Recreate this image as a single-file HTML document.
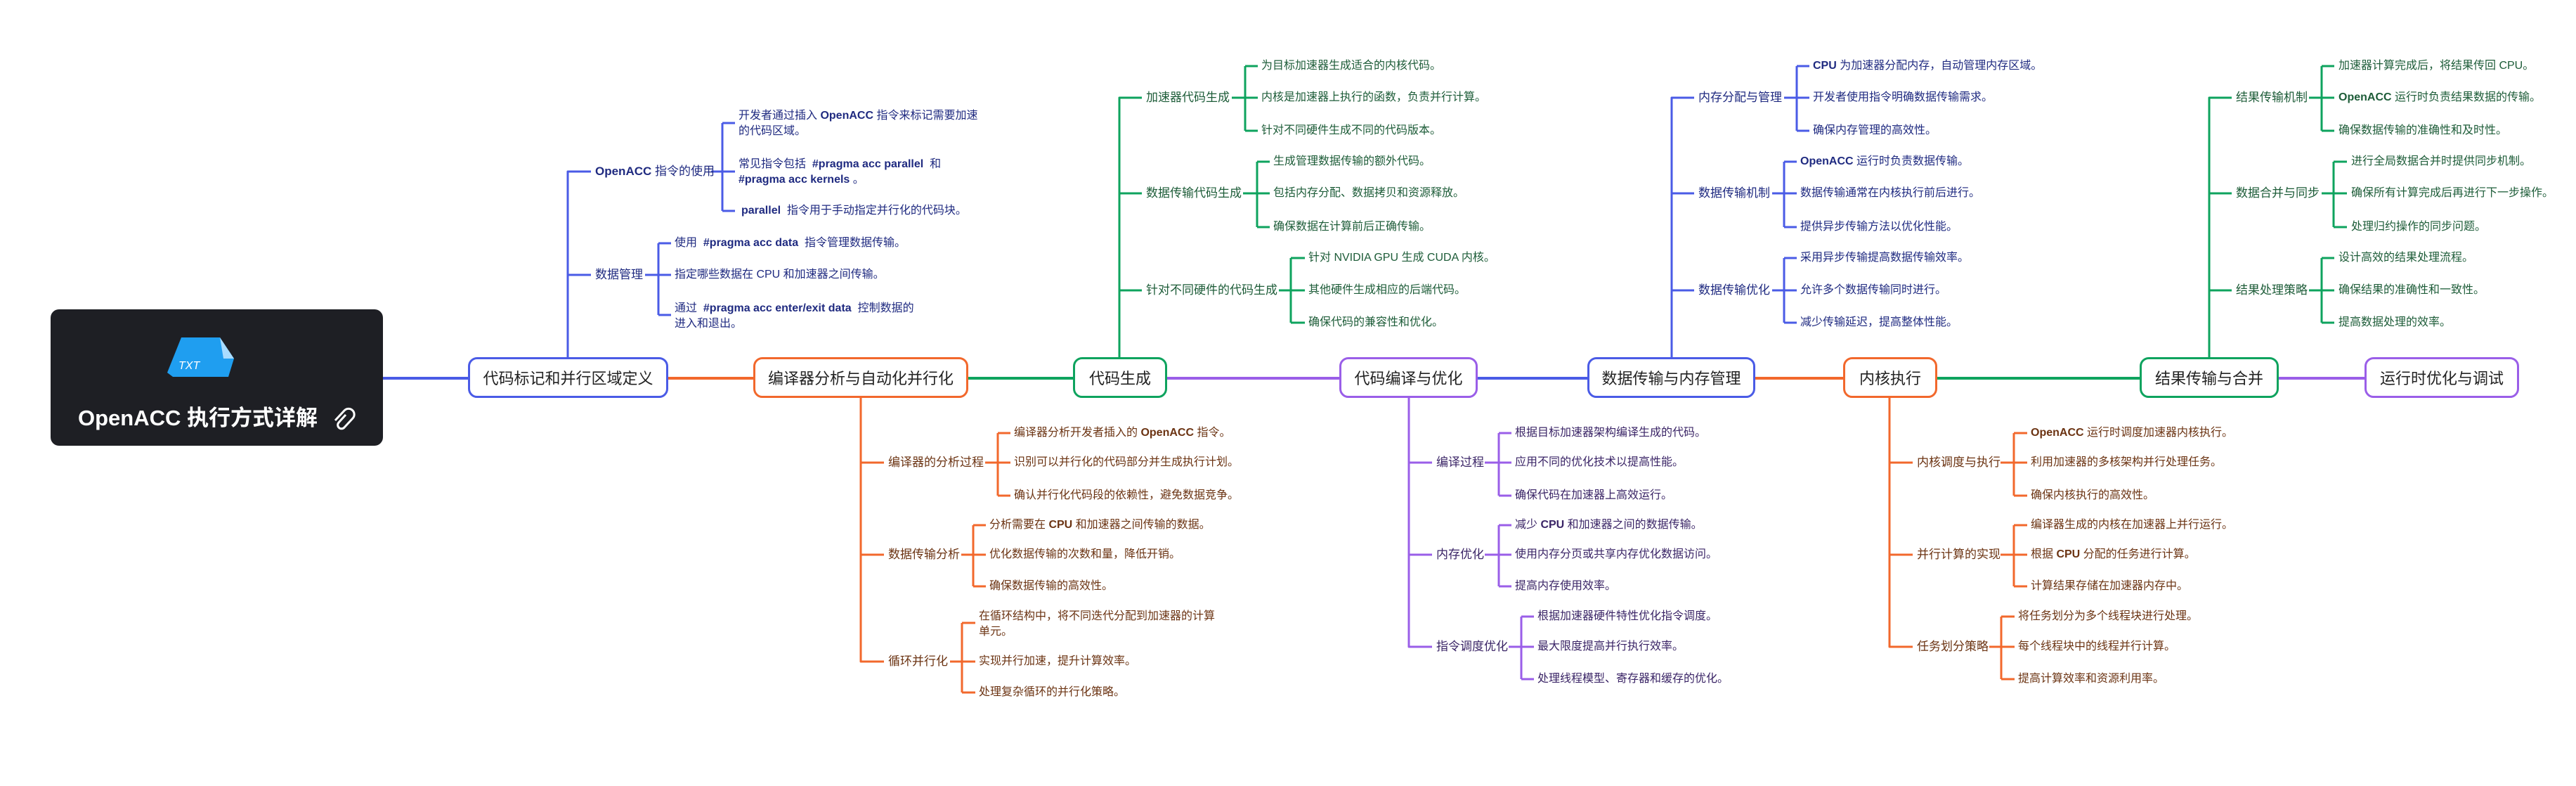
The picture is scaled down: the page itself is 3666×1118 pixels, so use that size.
<!DOCTYPE html>
<html><head><meta charset="utf-8">
<style>
html,body{margin:0;padding:0;background:#fff;}
body{width:3666px;height:1118px;position:relative;overflow:hidden;font-family:"Liberation Sans","Noto Sans CJK SC",sans-serif;}
.n{position:absolute;box-sizing:border-box;background:#fff;border:3.5px solid;border-radius:13px;height:58px;top:508px;display:flex;align-items:center;justify-content:center;font-size:22px;color:#222;white-space:nowrap;}
.t{position:absolute;white-space:nowrap;line-height:22px;}
.c{font-size:17px;}
.l{font-size:16px;}
.B{color:#1f2a80}.O{color:#6b3312}.G{color:#1d5c38}.P{color:#3a2466}
svg{position:absolute;left:0;top:0;}
</style></head><body>
<svg width="3666" height="1118" fill="none" stroke-width="3" stroke-linecap="butt" stroke-linejoin="round">
<g stroke-width="4">
<path d="M545 538H666" stroke="#4a5be6"/>
<path d="M951 538H1072" stroke="#f2682c"/>
<path d="M1378 538H1527" stroke="#0ea35e"/>
<path d="M1661 538H1906" stroke="#9a5ee8"/>
<path d="M2103 538H2259" stroke="#4a5be6"/>
<path d="M2498 538H2623" stroke="#f2682c"/>
<path d="M2757 538H3045" stroke="#0ea35e"/>
<path d="M3243 538H3365" stroke="#9a5ee8"/>
</g>
<g stroke="#4a5be6">
<path d="M808 509V244H841M808 391H841"/>
<path d="M1012 244H1046M1028 175V300M1028 175H1046M1028 300H1046"/>
<path d="M918 391H955M937 346V448M937 346H955M937 448H955"/>
</g>
<g stroke="#0ea35e">
<path d="M1593 509V139H1625M1593 275H1625M1593 413H1625"/>
<path d="M1753 139H1790M1772 94V186M1772 94H1790M1772 186H1790"/>
<path d="M1769 275H1807M1789 230V323M1789 230H1807M1789 323H1807"/>
<path d="M1820 413H1857M1837 367V459M1837 367H1857M1837 459H1857"/>
</g>
<g stroke="#4a5be6">
<path d="M2379 509V139H2411M2379 275H2411M2379 413H2411"/>
<path d="M2539 139H2575M2557 94V186M2557 94H2575M2557 186H2575"/>
<path d="M2522 275H2557M2539 230V323M2539 230H2557M2539 323H2557"/>
<path d="M2522 413H2557M2539 367V459M2539 367H2557M2539 459H2557"/>
</g>
<g stroke="#0ea35e">
<path d="M3144 509V139H3176M3144 275H3176M3144 413H3176"/>
<path d="M3286 139H3322M3304 94V186M3304 94H3322M3304 186H3322"/>
<path d="M3304 275H3340M3321 230V323M3321 230H3340M3321 323H3340"/>
<path d="M3286 413H3322M3304 367V459M3304 367H3322M3304 459H3322"/>
</g>
<g stroke="#f2682c">
<path d="M1225 566V941H1258M1225 658H1258M1225 789H1258"/>
<path d="M1402 658H1438M1420 616V705M1420 616H1438M1420 705H1438"/>
<path d="M1368 789H1403M1385 747V834M1385 747H1403M1385 834H1403"/>
<path d="M1352 941H1388M1369 886V985M1369 886H1388M1369 985H1388"/>
</g>
<g stroke="#9a5ee8">
<path d="M2005 566V920H2038M2005 658H2038M2005 789H2038"/>
<path d="M2113 658H2151M2133 616V705M2133 616H2151M2133 705H2151"/>
<path d="M2113 789H2151M2133 747V834M2133 747H2151M2133 834H2151"/>
<path d="M2147 920H2183M2165 877V966M2165 877H2183M2165 966H2183"/>
</g>
<g stroke="#f2682c">
<path d="M2689 566V920H2722M2689 658H2722M2689 789H2722"/>
<path d="M2847 658H2885M2866 616V705M2866 616H2885M2866 705H2885"/>
<path d="M2847 789H2885M2866 747V834M2866 747H2885M2866 834H2885"/>
<path d="M2831 920H2867M2848 877V966M2848 877H2867M2848 966H2867"/>
</g>
</svg>

<div style="position:absolute;left:72px;top:440px;width:473px;height:194px;background:#1e1f24;border-radius:12px;"></div>
<svg width="3666" height="1118" style="pointer-events:none">
<path d="M258 480H313L333 510L325 536H246L238 530Z" fill="#1f9ef0"/>
<path d="M313 480L333 510H318Z" fill="#a9dcff"/>
<text x="254" y="525" font-family="Liberation Sans" font-style="italic" font-size="16" fill="#fff">TXT</text>
<path d="M492 590l-10 11a5 5 0 0 0 8 7l12-13a8 8 0 0 0-12-11l-13 14" stroke="#fff" stroke-width="3" fill="none"/>
</svg>
<div class="t" style="left:111px;top:575px;font-size:31px;line-height:40px;font-weight:bold;color:#fff;">OpenACC 执行方式详解</div>

<div class="n" style="left:666px;width:285px;border-color:#4a5be6;">代码标记和并行区域定义</div>
<div class="n" style="left:1072px;width:306px;border-color:#f2682c;">编译器分析与自动化并行化</div>
<div class="n" style="left:1527px;width:134px;border-color:#0ea35e;">代码生成</div>
<div class="n" style="left:1906px;width:197px;border-color:#9a5ee8;">代码编译与优化</div>
<div class="n" style="left:2259px;width:239px;border-color:#4a5be6;">数据传输与内存管理</div>
<div class="n" style="left:2623px;width:134px;border-color:#f2682c;">内核执行</div>
<div class="n" style="left:3045px;width:198px;border-color:#0ea35e;">结果传输与合并</div>
<div class="n" style="left:3365px;width:220px;border-color:#9a5ee8;">运行时优化与调试</div>

<div class="t c B" style="left:847px;top:233px;"><b style="font-weight:600">OpenACC</b> 指令的使用</div>
<div class="t c B" style="left:847px;top:380px;">数据管理</div>
<div class="t l B" style="left:1051px;top:154px;">开发者通过插入 <b style="font-weight:600">OpenACC</b> 指令来标记需要加速<br>的代码区域。</div>
<div class="t l B" style="left:1051px;top:223px;">常见指令包括 &nbsp;<b style="font-weight:600">#pragma acc parallel</b> &nbsp;和<br><b style="font-weight:600">#pragma acc kernels</b> 。</div>
<div class="t l B" style="left:1055px;top:289px;"><b style="font-weight:600">parallel</b> &nbsp;指令用于手动指定并行化的代码块。</div>
<div class="t l B" style="left:960px;top:335px;">使用 &nbsp;<b style="font-weight:600">#pragma acc data</b> &nbsp;指令管理数据传输。</div>
<div class="t l B" style="left:960px;top:380px;">指定哪些数据在 CPU 和加速器之间传输。</div>
<div class="t l B" style="left:960px;top:428px;">通过 &nbsp;<b style="font-weight:600">#pragma acc enter/exit data</b> &nbsp;控制数据的<br>进入和退出。</div>

<div class="t c G" style="left:1631px;top:128px;">加速器代码生成</div>
<div class="t c G" style="left:1631px;top:264px;">数据传输代码生成</div>
<div class="t c G" style="left:1631px;top:402px;">针对不同硬件的代码生成</div>
<div class="t l G" style="left:1795px;top:83px;">为目标加速器生成适合的内核代码。</div>
<div class="t l G" style="left:1795px;top:128px;">内核是加速器上执行的函数，负责并行计算。</div>
<div class="t l G" style="left:1795px;top:175px;">针对不同硬件生成不同的代码版本。</div>
<div class="t l G" style="left:1812px;top:219px;">生成管理数据传输的额外代码。</div>
<div class="t l G" style="left:1812px;top:264px;">包括内存分配、数据拷贝和资源释放。</div>
<div class="t l G" style="left:1812px;top:312px;">确保数据在计算前后正确传输。</div>
<div class="t l G" style="left:1862px;top:356px;">针对 NVIDIA GPU 生成 CUDA 内核。</div>
<div class="t l G" style="left:1862px;top:402px;">其他硬件生成相应的后端代码。</div>
<div class="t l G" style="left:1862px;top:448px;">确保代码的兼容性和优化。</div>

<div class="t c B" style="left:2417px;top:128px;">内存分配与管理</div>
<div class="t c B" style="left:2417px;top:264px;">数据传输机制</div>
<div class="t c B" style="left:2417px;top:402px;">数据传输优化</div>
<div class="t l B" style="left:2580px;top:83px;"><b style="font-weight:600">CPU</b> 为加速器分配内存，自动管理内存区域。</div>
<div class="t l B" style="left:2580px;top:128px;">开发者使用指令明确数据传输需求。</div>
<div class="t l B" style="left:2580px;top:175px;">确保内存管理的高效性。</div>
<div class="t l B" style="left:2562px;top:219px;"><b style="font-weight:600">OpenACC</b> 运行时负责数据传输。</div>
<div class="t l B" style="left:2562px;top:264px;">数据传输通常在内核执行前后进行。</div>
<div class="t l B" style="left:2562px;top:312px;">提供异步传输方法以优化性能。</div>
<div class="t l B" style="left:2562px;top:356px;">采用异步传输提高数据传输效率。</div>
<div class="t l B" style="left:2562px;top:402px;">允许多个数据传输同时进行。</div>
<div class="t l B" style="left:2562px;top:448px;">减少传输延迟，提高整体性能。</div>

<div class="t c G" style="left:3182px;top:128px;">结果传输机制</div>
<div class="t c G" style="left:3182px;top:264px;">数据合并与同步</div>
<div class="t c G" style="left:3182px;top:402px;">结果处理策略</div>
<div class="t l G" style="left:3328px;top:83px;">加速器计算完成后，将结果传回 CPU。</div>
<div class="t l G" style="left:3328px;top:128px;"><b style="font-weight:600">OpenACC</b> 运行时负责结果数据的传输。</div>
<div class="t l G" style="left:3328px;top:175px;">确保数据传输的准确性和及时性。</div>
<div class="t l G" style="left:3346px;top:219px;">进行全局数据合并时提供同步机制。</div>
<div class="t l G" style="left:3346px;top:264px;">确保所有计算完成后再进行下一步操作。</div>
<div class="t l G" style="left:3346px;top:312px;">处理归约操作的同步问题。</div>
<div class="t l G" style="left:3328px;top:356px;">设计高效的结果处理流程。</div>
<div class="t l G" style="left:3328px;top:402px;">确保结果的准确性和一致性。</div>
<div class="t l G" style="left:3328px;top:448px;">提高数据处理的效率。</div>

<div class="t c O" style="left:1264px;top:647px;">编译器的分析过程</div>
<div class="t c O" style="left:1264px;top:778px;">数据传输分析</div>
<div class="t c O" style="left:1264px;top:930px;">循环并行化</div>
<div class="t l O" style="left:1443px;top:605px;">编译器分析开发者插入的 <b style="font-weight:600">OpenACC</b> 指令。</div>
<div class="t l O" style="left:1443px;top:647px;">识别可以并行化的代码部分并生成执行计划。</div>
<div class="t l O" style="left:1443px;top:694px;">确认并行化代码段的依赖性，避免数据竞争。</div>
<div class="t l O" style="left:1408px;top:736px;">分析需要在 <b style="font-weight:600">CPU</b> 和加速器之间传输的数据。</div>
<div class="t l O" style="left:1408px;top:778px;">优化数据传输的次数和量，降低开销。</div>
<div class="t l O" style="left:1408px;top:823px;">确保数据传输的高效性。</div>
<div class="t l O" style="left:1393px;top:866px;">在循环结构中，将不同迭代分配到加速器的计算<br>单元。</div>
<div class="t l O" style="left:1393px;top:930px;">实现并行加速，提升计算效率。</div>
<div class="t l O" style="left:1393px;top:974px;">处理复杂循环的并行化策略。</div>

<div class="t c P" style="left:2044px;top:647px;">编译过程</div>
<div class="t c P" style="left:2044px;top:778px;">内存优化</div>
<div class="t c P" style="left:2044px;top:909px;">指令调度优化</div>
<div class="t l P" style="left:2156px;top:605px;">根据目标加速器架构编译生成的代码。</div>
<div class="t l P" style="left:2156px;top:647px;">应用不同的优化技术以提高性能。</div>
<div class="t l P" style="left:2156px;top:694px;">确保代码在加速器上高效运行。</div>
<div class="t l P" style="left:2156px;top:736px;">减少 <b style="font-weight:600">CPU</b> 和加速器之间的数据传输。</div>
<div class="t l P" style="left:2156px;top:778px;">使用内存分页或共享内存优化数据访问。</div>
<div class="t l P" style="left:2156px;top:823px;">提高内存使用效率。</div>
<div class="t l P" style="left:2188px;top:866px;">根据加速器硬件特性优化指令调度。</div>
<div class="t l P" style="left:2188px;top:909px;">最大限度提高并行执行效率。</div>
<div class="t l P" style="left:2188px;top:955px;">处理线程模型、寄存器和缓存的优化。</div>

<div class="t c O" style="left:2728px;top:647px;">内核调度与执行</div>
<div class="t c O" style="left:2728px;top:778px;">并行计算的实现</div>
<div class="t c O" style="left:2728px;top:909px;">任务划分策略</div>
<div class="t l O" style="left:2890px;top:605px;"><b style="font-weight:600">OpenACC</b> 运行时调度加速器内核执行。</div>
<div class="t l O" style="left:2890px;top:647px;">利用加速器的多核架构并行处理任务。</div>
<div class="t l O" style="left:2890px;top:694px;">确保内核执行的高效性。</div>
<div class="t l O" style="left:2890px;top:736px;">编译器生成的内核在加速器上并行运行。</div>
<div class="t l O" style="left:2890px;top:778px;">根据 <b style="font-weight:600">CPU</b> 分配的任务进行计算。</div>
<div class="t l O" style="left:2890px;top:823px;">计算结果存储在加速器内存中。</div>
<div class="t l O" style="left:2872px;top:866px;">将任务划分为多个线程块进行处理。</div>
<div class="t l O" style="left:2872px;top:909px;">每个线程块中的线程并行计算。</div>
<div class="t l O" style="left:2872px;top:955px;">提高计算效率和资源利用率。</div>
</body></html>
